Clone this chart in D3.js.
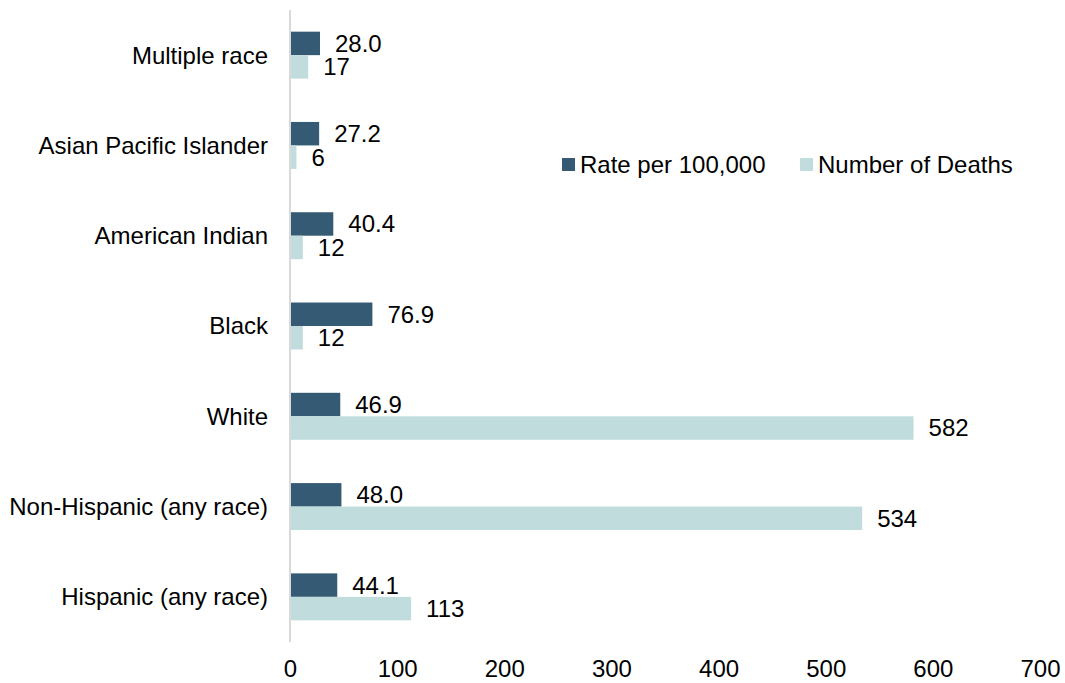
<!DOCTYPE html>
<html>
<head>
<meta charset="utf-8">
<script src="https://cdn.jsdelivr.net/npm/d3@7"></script>
<style>
  html, body { margin: 0; padding: 0; background: #fff; }
  text { font-family: "Liberation Sans", Arial, sans-serif; fill: #000; }
</style>
</head>
<body>
<svg id="chart" width="1065" height="683"></svg>
<script>
// Deaths by race / ethnicity: rate per 100,000 and number of deaths
const categories = [
  "Multiple race",
  "Asian Pacific Islander",
  "American Indian",
  "Black",
  "White",
  "Non-Hispanic (any race)",
  "Hispanic (any race)"
];
const rateValues   = [28.0, 27.2, 40.4, 76.9, 46.9, 48.0, 44.1];
const deathValues  = [17, 6, 12, 12, 582, 534, 113];
const seriesNames  = ["Rate per 100,000", "Number of Deaths"];
const seriesColors = ["#345a74", "#c0dcdc"];
const xTicks       = [0, 100, 200, 300, 400, 500, 600, 700];

const svg = d3.select("#chart");
const fontSize = 24;

const x = d3.scaleLinear().domain([0, 700]).range([290, 1040]);
const y = d3.scaleBand().domain(categories).range([10, 642]).padding(0);

// two bars per category, centred in each band
const inner = d3.scaleBand()
  .domain([0, 1])
  .range([y.bandwidth() * 0.24, y.bandwidth() * 0.76])
  .padding(0);

const rows = categories.map((c, i) => ({
  cat: c,
  values: [
    { s: 0, v: rateValues[i], label: rateValues[i].toFixed(1) },
    { s: 1, v: deathValues[i], label: String(deathValues[i]) }
  ]
}));

const groups = svg.append("g").selectAll("g")
  .data(rows)
  .join("g")
  .attr("transform", d => `translate(0,${y(d.cat)})`);

groups.selectAll("rect")
  .data(d => d.values)
  .join("rect")
  .attr("x", x(0))
  .attr("y", d => inner(d.s))
  .attr("width", d => x(d.v) - x(0))
  .attr("height", inner.bandwidth())
  .attr("fill", d => seriesColors[d.s]);

// value labels at the end of each bar
groups.selectAll("text.val")
  .data(d => d.values)
  .join("text")
  .attr("class", "val")
  .attr("x", d => x(d.v) + 15)
  .attr("y", d => inner(d.s) + inner.bandwidth() / 2)
  .attr("dy", "0.35em")
  .style("font-size", fontSize + "px")
  .text(d => d.label);

// category axis: vertical line plus labels
svg.append("line")
  .attr("x1", x(0)).attr("x2", x(0))
  .attr("y1", 10).attr("y2", 642)
  .attr("stroke", "#d9d9d9")
  .attr("stroke-width", 2);

svg.append("g").selectAll("text")
  .data(categories)
  .join("text")
  .attr("x", 268)
  .attr("y", d => y(d) + y.bandwidth() / 2)
  .attr("dy", "0.35em")
  .attr("text-anchor", "end")
  .style("font-size", fontSize + "px")
  .text(d => d);

// value axis tick labels (no line)
const xAxis = d3.axisBottom(x).tickValues(xTicks).tickSize(0).tickPadding(0).tickFormat(d3.format("d"));
const gx = svg.append("g").attr("transform", "translate(0,669)").call(xAxis);
gx.select(".domain").remove();
gx.selectAll("text")
  .attr("y", 0)
  .attr("dy", "0.35em")
  .style("font-size", fontSize + "px")
  .style("font-family", "'Liberation Sans', Arial, sans-serif")
  .attr("fill", "#000");

// legend
const legendX = [562, 800];
const legend = svg.append("g").selectAll("g")
  .data(seriesNames)
  .join("g")
  .attr("transform", (d, i) => `translate(${legendX[i]},158)`);
legend.append("rect")
  .attr("width", 13).attr("height", 13)
  .attr("fill", (d, i) => seriesColors[i]);
legend.append("text")
  .attr("x", 18)
  .attr("y", 6.5)
  .attr("dy", "0.35em")
  .style("font-size", fontSize + "px")
  .text(d => d);
</script>
</body>
</html>
